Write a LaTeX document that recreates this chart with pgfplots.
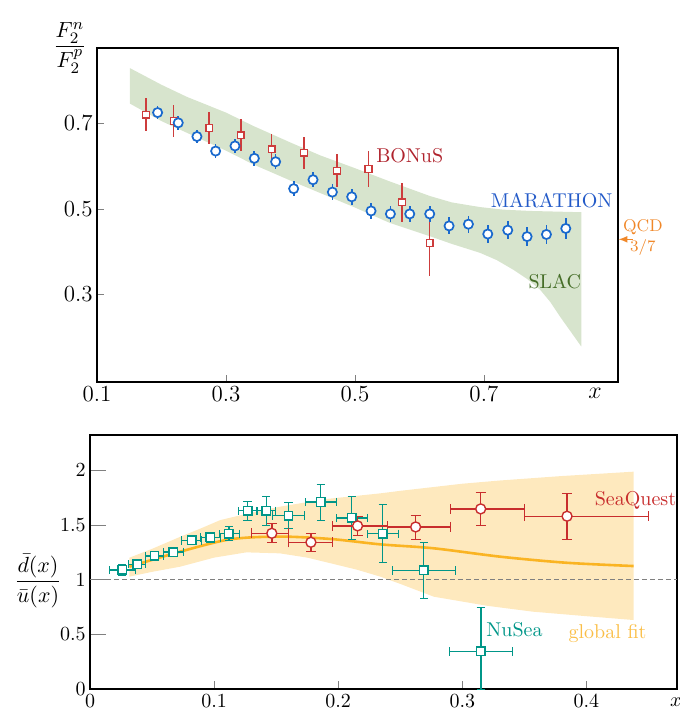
\documentclass[border=0pt]{standalone}
\usepackage{pgfplots}
\pgfplotsset{compat=1.18}
\usepackage{amsmath}
\definecolor{marblue}{RGB}{25,105,205}
\definecolor{martext}{RGB}{35,90,200}
\definecolor{bonred}{RGB}{205,60,60}
\definecolor{bontext}{RGB}{175,35,45}
\definecolor{slacgreen}{RGB}{215,228,205}
\definecolor{slactext}{RGB}{70,110,40}
\definecolor{qcdorange}{RGB}{240,135,40}
\definecolor{nuteal}{RGB}{0,150,136}
\definecolor{sqred}{RGB}{200,45,45}
\definecolor{gfband}{RGB}{254,233,190}
\definecolor{gfline}{RGB}{250,180,35}
\definecolor{gftext}{RGB}{250,190,70}

\pgfplotstableread{
x y e
0.194 0.725 0.016
0.226 0.701 0.016
0.255 0.669 0.016
0.284 0.635 0.017
0.314 0.647 0.017
0.344 0.618 0.017
0.377 0.610 0.017
0.405 0.547 0.018
0.435 0.568 0.018
0.465 0.539 0.018
0.495 0.528 0.018
0.525 0.495 0.018
0.555 0.488 0.019
0.585 0.488 0.019
0.616 0.488 0.019
0.646 0.460 0.020
0.676 0.464 0.020
0.706 0.441 0.021
0.737 0.450 0.021
0.767 0.435 0.022
0.797 0.440 0.023
0.827 0.454 0.024
}\marathon

\pgfplotstableread{
x y ep em
0.176 0.720 0.039 0.039
0.219 0.705 0.038 0.038
0.274 0.689 0.038 0.038
0.323 0.672 0.038 0.038
0.371 0.639 0.036 0.036
0.421 0.631 0.037 0.037
0.472 0.589 0.038 0.038
0.521 0.593 0.041 0.041
0.573 0.515 0.045 0.045
0.616 0.420 0.068 0.076
}\bonus

\pgfplotstableread{
x y ex eyp eym
0.026 1.087 0.0107 0.050 0.050
0.038 1.139 0.0070 0.035 0.035
0.052 1.215 0.0074 0.030 0.030
0.067 1.251 0.0080 0.035 0.035
0.082 1.358 0.0080 0.040 0.040
0.097 1.385 0.0080 0.045 0.045
0.112 1.418 0.0080 0.064 0.064
0.127 1.628 0.0074 0.090 0.090
0.142 1.628 0.0074 0.135 0.135
0.160 1.583 0.0128 0.117 0.117
0.186 1.708 0.0125 0.165 0.165
0.211 1.562 0.0125 0.200 0.200
0.236 1.418 0.0128 0.265 0.265
0.269 1.084 0.0254 0.256 0.256
0.315 0.344 0.0253 0.400 0.344
}\nusea

\pgfplotstableread{
x y exm exp ey
0.1465 1.422 0.0165 0.0135 0.087
0.178 1.340 0.018 0.017 0.082
0.2156 1.490 0.0206 0.0244 0.091
0.2624 1.480 0.0224 0.0276 0.110
0.3148 1.645 0.0248 0.0352 0.149
0.3844 1.578 0.0344 0.0656 0.211
}\seaquest

\begin{document}
\begin{tikzpicture}
\useasboundingbox (0,0) rectangle (339.5pt,355pt);
% ---------------- top panel ----------------
\begin{axis}[
  at={(48.5pt,164pt)}, anchor=south west, scale only axis,
  width=260.5pt, height=167pt,
  xmin=0.1, xmax=0.908, ymin=0.095, ymax=0.876,
  xtick={0.1,0.3,0.5,0.7}, xticklabels={0.1,0.3,0.5,0.7},
  ytick={0.3,0.5,0.7}, yticklabels={0.3,0.5,0.7},
  tick pos=left, tick align=inside, major tick length=3.5pt,
  axis line style={line width=0.6pt},
  ticklabel style={font=\fontsize{11.5}{13}\selectfont},
  xticklabel style={inner sep=2pt},
  yticklabel style={inner sep=2pt},
  clip=false,
]
\addplot[fill=slacgreen, draw=none] coordinates {
(0.151,0.829) (0.2,0.790) (0.239,0.762) (0.3,0.725) (0.342,0.694)
(0.4,0.655) (0.446,0.625) (0.5,0.595) (0.554,0.564) (0.616,0.530)
(0.65,0.515) (0.694,0.504) (0.73,0.498) (0.771,0.495) (0.851,0.492)
(0.851,0.178) (0.835,0.212) (0.818,0.248) (0.803,0.282) (0.787,0.311)
(0.767,0.336) (0.745,0.358) (0.72,0.380) (0.694,0.397) (0.65,0.418)
(0.616,0.436) (0.554,0.467) (0.5,0.503) (0.446,0.537) (0.4,0.566)
(0.342,0.604) (0.3,0.636) (0.239,0.678) (0.2,0.705) (0.151,0.746)
} -- cycle;
\addplot[only marks, mark=square*, mark size=1.7pt,
  mark options={fill=white, draw=bonred, line width=0.7pt},
  error bars/.cd, y dir=both, y explicit,
  error bar style={bonred, line width=0.75pt}, error mark=none]
  table[x=x, y=y, y error plus=ep, y error minus=em] {\bonus};
\addplot[only marks, mark=*, mark size=2.3pt,
  mark options={fill=white, draw=marblue, line width=0.85pt},
  error bars/.cd, y dir=both, y explicit,
  error bar style={marblue, line width=0.85pt}, error mark=none]
  table[x=x, y=y, y error=e] {\marathon};
\node[text=bontext] at (axis cs:0.585,0.624) {BONuS};
\node[text=martext] at (axis cs:0.805,0.519) {MARATHON};
\node[text=slactext] at (axis cs:0.81,0.330) {SLAC};
\node[text=qcdorange, font=\fontsize{8.5}{10}\selectfont] at (axis cs:0.9465,0.458) {QCD};
\node[text=qcdorange, font=\fontsize{8.5}{10}\selectfont] at (axis cs:0.9465,0.409) {$3/7$};
\draw[qcdorange, -latex, line width=0.5pt] (axis cs:0.931,0.4286) -- (axis cs:0.909,0.4286);
\node[anchor=base, font=\fontsize{11.5}{13}\selectfont] at (rel axis cs:0.956,0) [yshift=-8.3pt] {$x$};
\node[font=\fontsize{11}{13}\selectfont] at (rel axis cs:-0.052,1.0) {$\dfrac{F_2^n}{F_2^p}$};
\end{axis}
% ---------------- bottom panel ----------------
\begin{axis}[
  at={(45pt,10.5pt)}, anchor=south west, scale only axis,
  width=293.5pt, height=127pt,
  xmin=0, xmax=0.473, ymin=0, ymax=2.32,
  xtick={0,0.1,0.2,0.3,0.4}, xticklabels={0,0.1,0.2,0.3,0.4},
  ytick={0,0.5,1,1.5,2}, yticklabels={0,0.5,1,1.5,2},
  tick pos=left, tick align=inside, major tick length=4pt,
  y tick style={/pgfplots/major tick length=8pt},
  axis line style={line width=0.6pt},
  xticklabel style={inner sep=2.5pt},
  yticklabel style={inner sep=2pt},
  clip=false,
]
\addplot[fill=gfband, draw=none] coordinates {
(0.0317,1.199) (0.05,1.28) (0.0726,1.39) (0.09,1.47) (0.105,1.543)
(0.13,1.61) (0.153,1.665) (0.19,1.735) (0.234,1.787) (0.25,1.81)
(0.3,1.875) (0.331,1.905) (0.38,1.945) (0.438,1.985)
(0.438,0.63) (0.4,0.665) (0.357,0.706) (0.32,0.76) (0.277,0.843)
(0.25,0.96) (0.234,1.026) (0.215,1.09) (0.194,1.148) (0.175,1.2)
(0.153,1.239) (0.126,1.248) (0.1,1.2) (0.0726,1.117) (0.05,1.07)
(0.0317,1.026)
} -- cycle;
\addplot[gray, dashed, line width=0.5pt, dash pattern=on 2.5pt off 1.5pt] coordinates {(0,1) (0.473,1)};
\addplot[gfline, line width=1.3pt, smooth] coordinates {
(0.0317,1.117) (0.0726,1.254) (0.113,1.367) (0.153,1.392) (0.194,1.370)
(0.234,1.321) (0.277,1.285) (0.331,1.208) (0.384,1.153) (0.438,1.123)
};
\addplot[only marks, mark=square*, mark size=2.1pt,
  mark options={fill=white, draw=nuteal, line width=0.7pt},
  error bars/.cd, x dir=both, x explicit, y dir=both, y explicit,
  error bar style={nuteal, line width=0.6pt}]
  table[x=x, y=y, x error=ex, y error plus=eyp, y error minus=eym] {\nusea};
\addplot[only marks, mark=*, mark size=2.5pt,
  mark options={fill=white, draw=sqred, line width=0.7pt},
  error bars/.cd, x dir=both, x explicit, y dir=both, y explicit,
  error bar style={sqred, line width=0.7pt}]
  table[x=x, y=y, x error plus=exp, x error minus=exm, y error=ey] {\seaquest};
\node[text=sqred] at (axis cs:0.4395,1.726) {SeaQuest};
\node[text=nuteal] at (axis cs:0.342,0.539) {NuSea};
\node[text=gftext] at (axis cs:0.417,0.511) {global fit};
\node[anchor=base] at (rel axis cs:0.998,0) [yshift=-9pt] {$x$};
\node[font=\fontsize{11}{13}\selectfont] at (rel axis cs:-0.0886,0.425) {$\dfrac{\bar{d}(x)}{\bar{u}(x)}$};
\end{axis}
\end{tikzpicture}
\end{document}
